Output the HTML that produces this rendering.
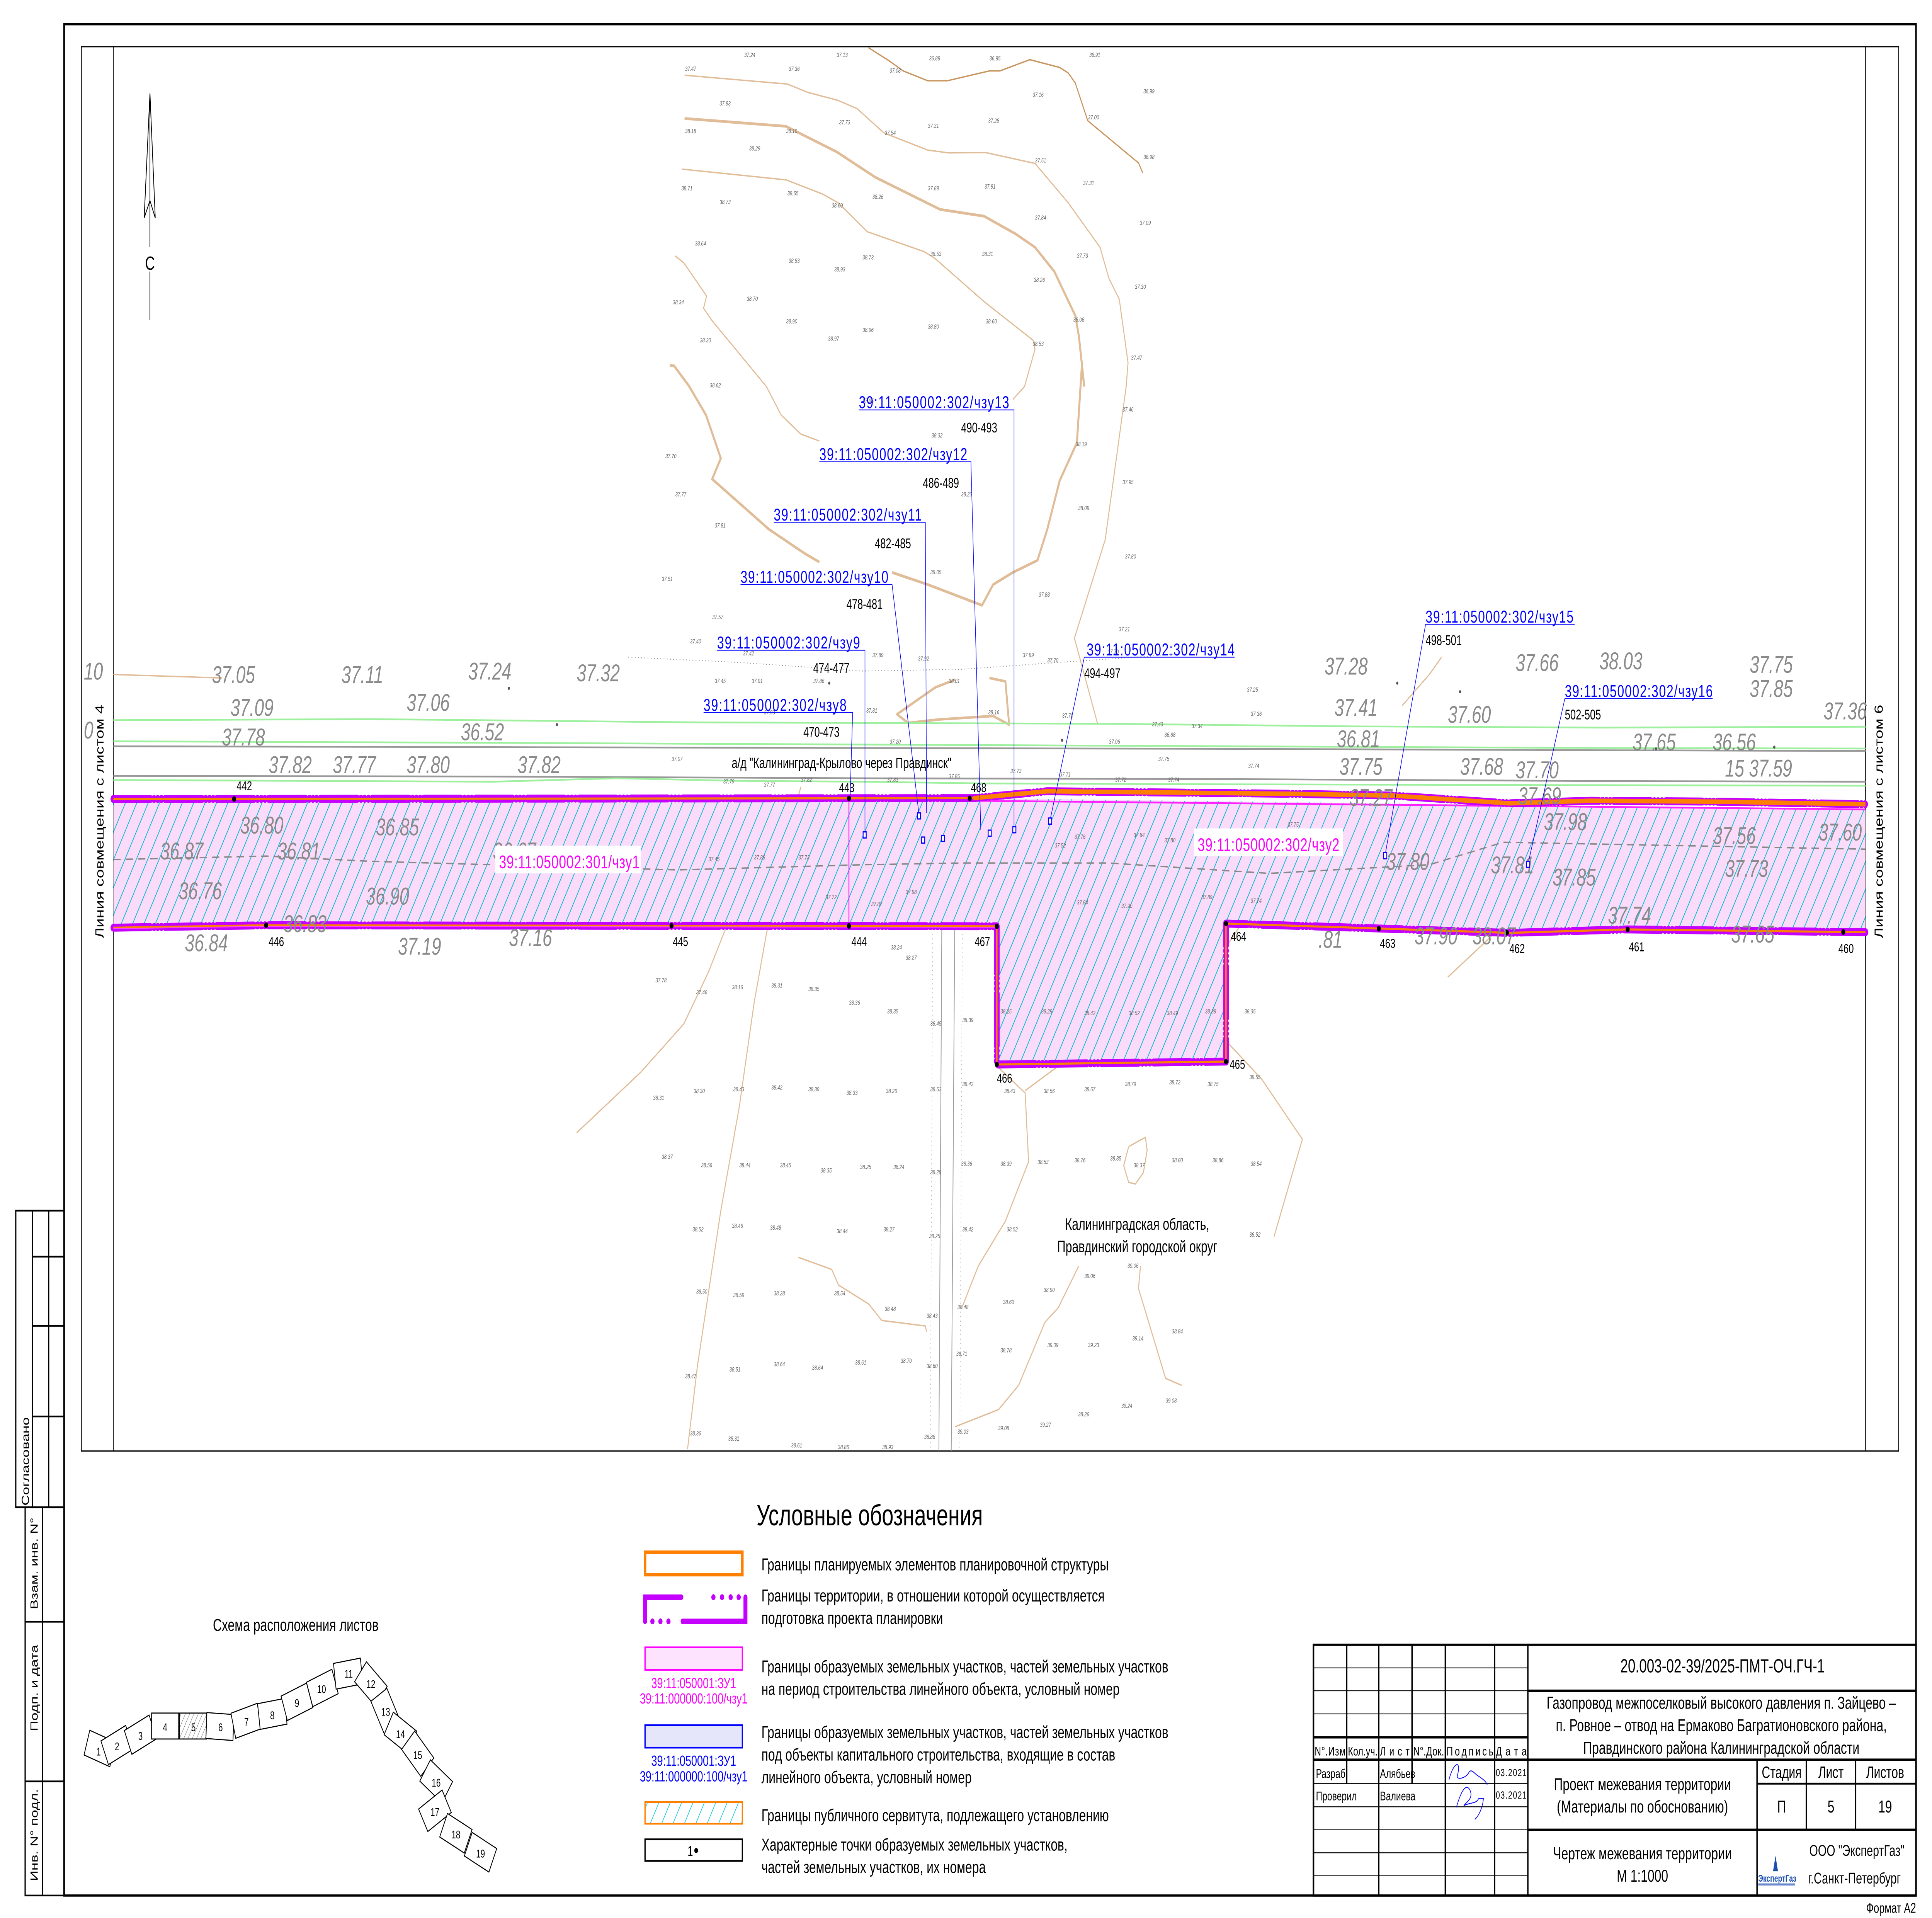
<!DOCTYPE html>
<html><head><meta charset="utf-8"><style>
html,body{margin:0;padding:0;background:#fff;width:100%;height:100%;overflow:hidden;}
svg{display:block;position:fixed;left:0;top:0;width:100vw;height:100vh;}
text{font-family:"Liberation Sans",sans-serif;}
.g{fill:#8a8a8a;font-style:italic;}
.sm{fill:#666;font-size:3.6px;font-style:italic;}
.bl{fill:#0000ff;font-size:10px;}
.bk{fill:#000;font-size:8px;}
.pt{fill:#000;font-size:7.5px;}
.lg{fill:#000;font-size:10px;}
.tb{fill:#000;}
</style></head><body>
<svg viewBox="0 0 1568 1109" preserveAspectRatio="none" xmlns="http://www.w3.org/2000/svg">
<defs>
<pattern id="h" width="8" height="8" patternUnits="userSpaceOnUse" patternTransform="rotate(30)">
<rect width="8" height="8" fill="#fadcfa"/>
<line x1="0" y1="0" x2="0" y2="8" stroke="#00bcd4" stroke-width="1.1"/>
</pattern>
<pattern id="h2" width="8" height="8" patternUnits="userSpaceOnUse" patternTransform="rotate(30)">
<rect width="8" height="8" fill="#fff"/>
<line x1="0" y1="0" x2="0" y2="8" stroke="#00c6d8" stroke-width="0.9"/>
</pattern>
<pattern id="h3" width="3" height="3" patternUnits="userSpaceOnUse" patternTransform="rotate(30)">
<line x1="0" y1="0" x2="0" y2="3" stroke="#000" stroke-width="0.3"/>
</pattern>
</defs>
<rect width="1568" height="1109" fill="#fff"/>

<rect x="52" y="14" width="1503" height="1082" fill="none" stroke="#000" stroke-width="1.3"/>
<rect x="66" y="27" width="1475" height="812" fill="none" stroke="#000" stroke-width="0.7"/>
<line x1="92" y1="27" x2="92" y2="839" stroke="#000" stroke-width="0.5"/>
<line x1="1514" y1="27" x2="1514" y2="839" stroke="#000" stroke-width="0.5"/>

<g stroke="#000" stroke-width="1" fill="none">
<polyline points="52,700 12.8,700 12.8,871.5 52,871.5"/>
<line x1="26.4" y1="700" x2="26.4" y2="871.5"/>
<line x1="39.5" y1="700" x2="39.5" y2="871.5"/>
<line x1="26.4" y1="726.6" x2="52" y2="726.6"/>
<line x1="26.4" y1="766.6" x2="52" y2="766.6"/>
<line x1="26.4" y1="819" x2="52" y2="819"/>
<polyline points="52,871.5 20.4,871.5 20.4,1096 52,1096"/>
<line x1="34.6" y1="871.5" x2="34.6" y2="1096"/>
<line x1="20.4" y1="937.7" x2="52" y2="937.7"/>
<line x1="20.4" y1="1030" x2="52" y2="1030"/>
</g>
<g font-size="8.5" fill="#000">
<text transform="translate(23.5,845) rotate(-90)" text-anchor="middle">Согласовано</text>
<text transform="translate(30.5,904) rotate(-90)" text-anchor="middle">Взам. инв. N°</text>
<text transform="translate(30.5,976) rotate(-90)" text-anchor="middle">Подп. и дата</text>
<text transform="translate(30.5,1061) rotate(-90)" text-anchor="middle">Инв. N° подл.</text>
</g>

<g stroke="#000" stroke-width="0.6" fill="none">
<polyline points="121.7,185 121.7,157"/>
<polyline points="121.7,143 121.7,54"/>
<polyline points="117,126 121.7,54 126,126 121.7,116 117,126"/>
</g>
<text x="121.7" y="156" font-size="11" text-anchor="middle">С</text>

<text transform="translate(84,475) rotate(-90)" font-size="9.5" text-anchor="middle">Линия совмещения с листом 4</text>
<text transform="translate(1528,475) rotate(-90)" font-size="9.5" text-anchor="middle">Линия совмещения с листом 6</text>

<g fill="none" stroke="#e0bd98" stroke-width="0.8" stroke-linejoin="round">
<polyline points="555.6,43.5 639,48.6 656,53.5 680,58 695.5,62.8 717.5,76.9 753,86.8 770,88.4 800,88.2 840,94.5 867,117.3 892.8,143 900,161 908.4,173 915.5,209.7 914,223.5 897,312 872,369 891,419"/>
<polyline points="555.6,68.5 637.7,73 679,87.8 710.4,102.5 763,121.1 798.7,125 824.4,135.3 840,143 855.7,157 872.8,182.7 875.6,194.3 880,223.5" stroke-width="1.6"/>
<polyline points="553.6,97.8 638,104 667.6,112.2 680.4,117.3 704,134 750,145.5 758.8,149.4 798.7,174.4 810,180.8 838.6,196.8 840,202 831.5,223.5 822,231"/>
<polyline points="548,148 555,152 573.5,171.2 571,178.2 577.8,185.3 622,223.5 634,240 650,251 665,255"/>
<polyline points="543.6,211.3 547,211.5 559,223 573,240 585,265 578,277 624,306 653,320 665,325" stroke-width="1.6"/>
<polyline points="724,331 753,338 797,350 806,338 822,331 842,324 850,306 860,278 874,256 878,212 880,223.5" stroke-width="1.6"/>
<polyline points="704.7,27.5 721.7,35.2 733,41 753,46.7 768.8,46.7 803,41 811.5,41 835.8,34.5 860,39 867,42.2 872.7,48 882.8,69.8 924,94.2 927.5,100" stroke="#c9955e"/>
<polyline points="775,393 759,397.5 728,413 737,418 762,416 806,414 819,419 816,394 803,392" stroke-width="1.5"/>
<polyline points="832,630.6 856.5,617.7 886,596 910.7,587.4 940.5,588.5 970,600 994.6,601.5 1024,624 1057,658.7 1034,715"/>
<polyline points="810,617 832,632 834.8,671.7 816,706 794,732 780.7,756"/>
<polyline points="875.5,732 859,756 848,764.6 826.7,801 810.5,815 775,825"/>
<polyline points="925.6,732 924,745 946,797 959,801"/>
<polyline points="648,727 675,734 680.5,743 705,754 715.7,763.5 751,766.7 752,770"/>
<polyline points="916,663 929.6,657.6 931,665 928,678 921.5,684.6 916,683.6 912,674 916,663"/>
<polyline points="468,655 520,620 555,592 575,562 590,535 600,510 615,492 625,470"/>
<polyline points="558,838 566,790 585,700 600,640 612,580 622,540 640,480 650,455"/>
<polyline points="465,463 488,472 494,495 498,515 530,525 565,507"/>
<polyline points="990,553 1030,510 1070,485 1110,480 1160,482 1210,478 1240,472"/>
<polyline points="700,521 712,515 722,520 738,512 760,505" stroke-width="1.4"/>
<polyline points="810,535 815,540 830,555 850,545 872,547 895,560 920,520 940,515 960,545 985,555 995,560" stroke-width="1.2"/>
<polyline points="1224,515 1230,515 1240,520 1205,545 1175,565"/>
<polyline points="92,390 180,392"/>
<polyline points="1138,408 1160,390 1170,380"/>
</g>

<g fill="none">
<polyline points="92,416.4 300,415.8 568,417.7 900,418.5 1100,420 1300,420.7 1514,420.2" stroke="#9ef09e" stroke-width="1"/>
<polyline points="92,428.6 400,429.5 700,430.5 1000,431.5 1300,432.5 1514,432.8" stroke="#9ef09e" stroke-width="1"/>
<polyline points="92,431.5 400,432 700,432.5 1000,433 1300,433.8 1514,434.2" stroke="#999" stroke-width="1"/>
<polyline points="92,448.6 400,449 700,450 1000,450.5 1300,451.6 1514,452" stroke="#999" stroke-width="1"/>
<polyline points="92,451 400,452 500,450 600,451.5 700,452 800,453 1000,453.5 1300,454 1514,454.3" stroke="#9ef09e" stroke-width="1"/>
<polyline points="510,380 600,383 700,388 780,387 860,383 960,378" stroke="#888" stroke-width="0.5" stroke-dasharray="0.6 2"/>
<line x1="764.5" y1="520" x2="762" y2="839" stroke="#999" stroke-width="0.6"/>
<line x1="775" y1="520" x2="772" y2="839" stroke="#999" stroke-width="0.6"/>
<line x1="757" y1="540" x2="755" y2="839" stroke="#aaa" stroke-width="0.4" stroke-dasharray="0.6 2"/>
<line x1="781" y1="540" x2="779" y2="839" stroke="#aaa" stroke-width="0.4" stroke-dasharray="0.6 2"/>
</g>

<polygon points="92,462 790,461.5 1514,468 1514,539 1320,537.4 1225,539.4 1100,536.4 995,534 995,613.8 809,615.5 809,535.6 216,535 92,536.4" fill="url(#h)"/>
<polyline points="92,497 216,495 300,498 550,503 700,500 780,499 900,499 1030,505 1160,500 1220,487 1514,491" fill="none" stroke="#888" stroke-width="0.8" stroke-dasharray="6 4"/>

<g fill="none" stroke-linejoin="round">
<polyline points="790,463 1514,468" stroke="#ff22ff" stroke-width="1"/>
<polyline points="92,462 790,461.5 850,457.5 1050,459 1130,460 1225,464.5 1290,463 1390,463.5 1514,465" stroke="#c400ff" stroke-width="4.6" stroke-dasharray="30 3 0 3 0 3 0 3" stroke-linecap="round"/>
<polyline points="790,461.5 850,457.5 1050,459 1130,460 1225,464.5 1290,463 1390,463.5 1514,465" stroke="#ff7f00" stroke-width="2.6"/>
<polyline points="92,462 790,461.5" stroke="#ff7f00" stroke-width="1.2"/>
<polyline points="92,536.4 216,535 809,535.6 809,615.5 995,613.8 995,534 1100,536.4 1225,539.4 1320,537.4 1514,539" stroke="#c400ff" stroke-width="4.6" stroke-dasharray="30 3 0 3 0 3 0 3" stroke-linecap="round"/>
<polyline points="92,536.4 216,535 809,535.6 809,615.5 995,613.8 995,534 1100,536.4 1225,539.4 1320,537.4 1514,539" stroke="#ff7f00" stroke-width="1.2"/>
<polyline points="92,537 216,535.6 809,536.2" stroke="#ff44ff" stroke-width="0.5"/>
<line x1="689" y1="462" x2="689" y2="536" stroke="#ff00ff" stroke-width="0.7"/>
</g>

<g fill="#000">
<circle cx="190" cy="462" r="1.6"/><circle cx="689" cy="461.7" r="1.6"/><circle cx="787" cy="461.6" r="1.6"/>
<circle cx="216" cy="535" r="1.6"/><circle cx="545" cy="535.3" r="1.6"/><circle cx="689" cy="535.4" r="1.6"/><circle cx="809" cy="535.6" r="1.6"/>
<circle cx="809" cy="615.5" r="1.6"/><circle cx="995" cy="613.8" r="1.6"/><circle cx="995" cy="534" r="1.6"/>
<circle cx="1119" cy="537" r="1.6"/><circle cx="1223" cy="539.3" r="1.6"/><circle cx="1321" cy="537.4" r="1.6"/><circle cx="1496" cy="538.9" r="1.6"/>
</g>
<g class="pt">
<text x="192" y="457">442</text><text x="681" y="458">443</text><text x="788" y="458">468</text>
<text x="218" y="547">446</text><text x="546" y="547">445</text><text x="691" y="547">444</text><text x="791" y="547">467</text>
<text x="809" y="626">466</text><text x="998" y="618">465</text><text x="999" y="544">464</text>
<text x="1120" y="548">463</text><text x="1225" y="551">462</text><text x="1322" y="550">461</text><text x="1492" y="551">460</text>
</g>

<g class="g" font-size="14">
<text x="68" y="393">10</text>
<text x="172" y="395">37.05</text><text x="277" y="395">37.11</text><text x="380" y="393">37.24</text><text x="468" y="394">37.32</text>
<text x="187" y="414">37.09</text><text x="330" y="411">37.06</text><text x="374" y="428">36.52</text><text x="180" y="431">37.78</text>
<text x="218" y="447">37.82</text><text x="270" y="447">37.77</text><text x="330" y="447">37.80</text><text x="420" y="447">37.82</text>
<text x="1075" y="390">37.28</text><text x="1230" y="388">37.66</text><text x="1298" y="387">38.03</text><text x="1420" y="389">37.75</text>
<text x="1083" y="414">37.41</text><text x="1175" y="418">37.60</text><text x="1420" y="403">37.85</text><text x="1480" y="416">37.36</text>
<text x="1085" y="432">36.81</text><text x="1390" y="434">36.56</text><text x="1325" y="434">37.65</text>
<text x="1087" y="448">37.75</text><text x="1185" y="448">37.68</text><text x="1230" y="450">37.70</text><text x="1400" y="449">15 37.59</text>
<text x="1232" y="465">37.69</text><text x="1095" y="466">37.27</text><text x="68" y="427">0</text>
<text x="195" y="482">36.80</text><text x="305" y="483">36.85</text><text x="130" y="497">36.87</text><text x="225" y="497">36.81</text><text x="400" y="497">36.67</text>
<text x="145" y="520">36.76</text><text x="297" y="523">36.90</text><text x="230" y="539">36.83</text><text x="150" y="550">36.84</text><text x="323" y="552">37.19</text><text x="413" y="547">37.16</text>
<text x="1253" y="480">37.98</text><text x="1390" y="488">37.56</text><text x="1476" y="486">37.60</text><text x="1125" y="503">37.80</text>
<text x="1210" y="505">37.81</text><text x="1260" y="512">37.85</text><text x="1400" y="507">37.73</text><text x="1305" y="534">37.74</text>
<text x="1148" y="546">37.90</text><text x="1195" y="546">38.07</text><text x="1405" y="545">37.65</text><text x="1070" y="548">.81</text>
</g>

<g class="sm">
<text x="604" y="33">37.24</text><text x="679" y="33">37.13</text><text x="754" y="35">36.89</text><text x="803" y="35">36.95</text><text x="884" y="33">36.91</text>
<text x="556" y="41">37.47</text><text x="640" y="41">37.36</text><text x="722" y="42">37.08</text><text x="838" y="56">37.16</text><text x="928" y="54">36.99</text>
<text x="584" y="61">37.83</text><text x="883" y="69">37.00</text><text x="556" y="77">38.18</text><text x="638" y="77">38.10</text><text x="681" y="72">37.73</text>
<text x="718" y="78">37.54</text><text x="753" y="74">37.31</text><text x="802" y="71">37.28</text><text x="608" y="87">38.29</text><text x="840" y="94">37.51</text>
<text x="928" y="92">36.98</text><text x="553" y="110">38.71</text><text x="639" y="113">38.65</text><text x="708" y="115">38.26</text><text x="753" y="110">37.89</text>
<text x="799" y="109">37.81</text><text x="879" y="107">37.31</text><text x="584" y="118">38.73</text><text x="675" y="120">38.60</text><text x="840" y="127">37.84</text>
<text x="925" y="130">37.09</text><text x="564" y="142">38.64</text><text x="640" y="152">38.83</text><text x="700" y="150">38.73</text><text x="677" y="157">38.93</text>
<text x="755" y="148">38.53</text><text x="797" y="148">38.31</text><text x="874" y="149">37.73</text><text x="839" y="163">38.26</text><text x="921" y="167">37.30</text>
<text x="546" y="176">38.34</text><text x="606" y="174">38.70</text><text x="638" y="187">38.90</text><text x="700" y="192">38.96</text><text x="753" y="190">38.80</text>
<text x="800" y="187">38.60</text><text x="871" y="186">38.06</text><text x="568" y="198">38.30</text><text x="672" y="197">38.97</text><text x="838" y="200">38.53</text>
<text x="918" y="208">37.47</text><text x="576" y="224">38.62</text><text x="700" y="233">37.95</text><text x="756" y="253">38.32</text><text x="873" y="258">38.19</text>
<text x="540" y="265">37.70</text><text x="548" y="287">37.77</text><text x="580" y="305">37.81</text><text x="780" y="287">38.23</text><text x="875" y="295">38.09</text>
<text x="537" y="336">37.51</text><text x="578" y="358">37.57</text><text x="560" y="372">37.40</text><text x="755" y="332">38.05</text><text x="843" y="345">37.88</text>
<text x="911" y="238">37.46</text><text x="911" y="280">37.95</text><text x="913" y="323">37.80</text><text x="908" y="365">37.21</text><text x="899" y="378">37.70</text>
<text x="723" y="549">38.24</text><text x="735" y="555">38.27</text><text x="656" y="573">38.35</text><text x="689" y="581">38.36</text><text x="720" y="586">38.35</text>
<text x="755" y="593">38.45</text><text x="781" y="591">38.39</text><text x="812" y="586">38.25</text><text x="845" y="586">38.29</text><text x="880" y="587">38.42</text>
<text x="916" y="587">38.52</text><text x="947" y="587">38.49</text><text x="978" y="586">38.39</text><text x="1010" y="586">38.35</text><text x="656" y="631">38.39</text>
<text x="687" y="633">38.33</text><text x="719" y="632">38.26</text><text x="755" y="631">38.53</text><text x="781" y="628">38.42</text><text x="815" y="632">38.43</text>
<text x="847" y="632">38.56</text><text x="880" y="631">38.67</text><text x="913" y="628">38.79</text><text x="949" y="627">38.72</text><text x="980" y="628">38.75</text>
<text x="1014" y="624">38.55</text><text x="666" y="678">38.35</text><text x="698" y="676">38.25</text><text x="725" y="676">38.24</text><text x="755" y="679">38.29</text>
<text x="780" y="674">38.36</text><text x="812" y="674">38.39</text><text x="842" y="673">38.53</text><text x="872" y="672">38.76</text><text x="901" y="671">38.85</text>
<text x="920" y="675">38.37</text><text x="951" y="672">38.80</text><text x="984" y="672">38.86</text><text x="1015" y="674">38.54</text><text x="679" y="713">38.44</text>
<text x="717" y="712">38.27</text><text x="754" y="716">38.25</text><text x="781" y="712">38.42</text><text x="817" y="712">38.52</text><text x="1014" y="715">38.52</text>
<text x="880" y="739">39.06</text><text x="915" y="733">39.06</text><text x="847" y="747">38.90</text><text x="814" y="754">38.60</text><text x="677" y="749">38.54</text>
<text x="718" y="758">38.48</text><text x="752" y="762">38.43</text><text x="777" y="757">38.48</text><text x="951" y="771">38.84</text><text x="919" y="775">39.14</text>
<text x="812" y="782">38.78</text><text x="850" y="779">39.09</text><text x="883" y="779">39.23</text><text x="659" y="792">38.64</text><text x="694" y="789">38.61</text>
<text x="731" y="788">38.70</text><text x="752" y="791">38.60</text><text x="776" y="784">38.71</text><text x="910" y="814">39.24</text><text x="946" y="811">39.08</text>
<text x="875" y="819">38.26</text><text x="810" y="827">39.08</text><text x="844" y="825">39.27</text><text x="777" y="829">39.03</text><text x="750" y="832">38.88</text>
<text x="680" y="838">38.86</text><text x="716" y="838">38.93</text>
<text x="532" y="568">37.78</text><text x="565" y="575">37.46</text><text x="594" y="572">38.16</text><text x="626" y="571">38.31</text><text x="530" y="636">38.31</text>
<text x="563" y="632">38.30</text><text x="595" y="631">38.43</text><text x="626" y="630">38.42</text><text x="537" y="670">38.37</text><text x="569" y="675">38.56</text>
<text x="600" y="675">38.44</text><text x="633" y="675">38.45</text><text x="562" y="712">38.52</text><text x="594" y="710">38.46</text><text x="625" y="711">38.48</text>
<text x="565" y="748">38.50</text><text x="595" y="750">38.59</text><text x="628" y="749">38.28</text><text x="556" y="797">38.47</text><text x="592" y="793">38.51</text>
<text x="628" y="790">38.64</text><text x="560" y="830">38.36</text><text x="591" y="833">38.31</text><text x="642" y="837">38.61</text>
<text x="603" y="379">37.42</text><text x="580" y="395">37.45</text><text x="610" y="395">37.91</text><text x="660" y="395">37.86</text><text x="708" y="380">37.89</text>
<text x="745" y="382">37.92</text><text x="770" y="395">38.01</text><text x="830" y="380">37.89</text><text x="850" y="383">37.70</text><text x="1012" y="400">37.25</text>
<text x="620" y="413">37.93</text><text x="703" y="412">37.81</text><text x="722" y="430">37.20</text><text x="802" y="413">38.16</text><text x="862" y="415">37.70</text>
<text x="935" y="420">37.43</text><text x="967" y="421">37.34</text><text x="1015" y="414">37.36</text><text x="900" y="430">37.06</text><text x="945" y="426">36.88</text>
<text x="545" y="440">37.07</text><text x="587" y="453">37.79</text><text x="620" y="455">37.77</text><text x="650" y="452">37.82</text><text x="720" y="452">37.83</text>
<text x="770" y="450">37.85</text><text x="820" y="447">37.73</text><text x="860" y="449">37.71</text><text x="905" y="452">37.72</text><text x="948" y="452">37.74</text>
<text x="940" y="440">37.75</text><text x="1013" y="444">37.74</text><text x="575" y="498">37.45</text><text x="612" y="497">37.88</text><text x="648" y="497">37.73</text>
<text x="670" y="520">37.72</text><text x="707" y="524">37.87</text><text x="735" y="517">37.98</text><text x="856" y="490">37.52</text><text x="872" y="485">37.76</text>
<text x="920" y="484">37.84</text><text x="945" y="487">37.80</text><text x="977" y="485">37.84</text><text x="1013" y="483">37.68</text><text x="1045" y="478">37.75</text>
<text x="975" y="520">37.89</text><text x="1015" y="522">37.74</text><text x="874" y="523">37.84</text><text x="910" y="525">37.90</text>
</g>
<g fill="#555">
<circle cx="413" cy="398" r="0.9"/><circle cx="673" cy="395" r="0.9"/><circle cx="1185" cy="400" r="0.9"/><circle cx="1134" cy="395" r="0.9"/>
<circle cx="1344" cy="433" r="0.9"/><circle cx="1440" cy="432" r="0.9"/><circle cx="862" cy="428" r="0.9"/><circle cx="452" cy="419" r="0.9"/>
</g>

<g fill="none" stroke="#0000ff" stroke-width="0.45">
<polyline points="697,237 823,237 823,482"/>
<polyline points="665,267 788,267 796,480"/>
<polyline points="628,302 751,302 752,470"/>
<polyline points="601,338 724,338 746,472"/>
<polyline points="582,376 702,376 702,483"/>
<polyline points="571,412 692,412 690,460"/>
<polyline points="1002,380 880,380 852,475"/>
<polyline points="1278,361 1157,361 1124,495"/>
<polyline points="1390,404 1270,404 1240,500"/>
</g>
<g fill="#fff" stroke="#0000ff" stroke-width="0.7">
<rect x="700.5" y="481" width="2.5" height="3.5"/><rect x="744.5" y="470" width="2.5" height="3.5"/><rect x="748" y="484" width="2.5" height="3.5"/>
<rect x="802" y="480" width="2.5" height="3.5"/><rect x="822" y="478" width="2.5" height="3.5"/><rect x="851" y="473" width="2.5" height="3.5"/>
<rect x="1123" y="493" width="2.5" height="3.5"/><rect x="1239" y="498" width="2.5" height="3.5"/><rect x="764" y="483" width="2.5" height="3.5"/>
</g>
<g class="bl">
<text x="697" y="236" textLength="122">39:11:050002:302/чзу13</text>
<text x="665" y="266" textLength="120">39:11:050002:302/чзу12</text>
<text x="628" y="301" textLength="120">39:11:050002:302/чзу11</text>
<text x="601" y="337" textLength="120">39:11:050002:302/чзу10</text>
<text x="582" y="375" textLength="116">39:11:050002:302/чзу9</text>
<text x="571" y="411" textLength="116">39:11:050002:302/чзу8</text>
<text x="882" y="379" textLength="120">39:11:050002:302/чзу14</text>
<text x="1157" y="360" textLength="120">39:11:050002:302/чзу15</text>
<text x="1270" y="403" textLength="120">39:11:050002:302/чзу16</text>
</g>
<g class="bk">
<text x="780" y="250">490-493</text><text x="749" y="282">486-489</text><text x="710" y="317">482-485</text><text x="687" y="352">478-481</text>
<text x="660" y="389">474-477</text><text x="652" y="426">470-473</text><text x="880" y="392">494-497</text><text x="1157" y="373">498-501</text><text x="1270" y="416">502-505</text>
</g>
<text x="683" y="444" font-size="8.5" text-anchor="middle" fill="#000">а/д "Калининград-Крылово через Правдинск"</text>

<rect x="402" y="489" width="118" height="16" fill="#fff"/>
<text x="405" y="502" font-size="10.5" fill="#ff00ff" textLength="114">39:11:050002:301/чзу1</text>
<rect x="969" y="479" width="121" height="16" fill="#fff"/>
<text x="972" y="492" font-size="10.5" fill="#ff00ff" textLength="115">39:11:050002:302/чзу2</text>

<text x="923" y="711" font-size="9.5" text-anchor="middle">Калининградская область,</text>
<text x="923" y="724" font-size="9.5" text-anchor="middle">Правдинский городской округ</text>

<text x="240" y="943" font-size="10" text-anchor="middle">Схема расположения листов</text>
<g fill="#fff" stroke="#000" stroke-width="0.6">
<rect x="-11" y="-7.5" width="22" height="15" transform="translate(81,1011) rotate(18)"/>
<rect x="-11" y="-7.5" width="22" height="15" transform="translate(95,1009) rotate(-24)"/>
<rect x="-11" y="-7.5" width="22" height="15" transform="translate(114,1003) rotate(-24)"/>
<rect x="-11" y="-7.5" width="22" height="15" transform="translate(134,998) rotate(0)"/>
<rect x="-11" y="-7.5" width="22" height="15" transform="translate(156.7,998) rotate(0)" fill="url(#h3)"/>
<rect x="-11" y="-7.5" width="22" height="15" transform="translate(178.5,998.3) rotate(3)"/>
<rect x="-11" y="-7.5" width="22" height="15" transform="translate(200,995) rotate(-15)"/>
<rect x="-11" y="-7.5" width="22" height="15" transform="translate(221,991) rotate(-8)"/>
<rect x="-11" y="-7.5" width="22" height="15" transform="translate(241,984) rotate(-20)"/>
<rect x="-11" y="-7.5" width="22" height="15" transform="translate(261.6,976) rotate(-20)"/>
<rect x="-11" y="-7.5" width="22" height="15" transform="translate(282.6,967.7) rotate(-8)"/>
<rect x="-11" y="-7.5" width="22" height="15" transform="translate(301,973.7) rotate(40)"/>
<rect x="-11" y="-7.5" width="22" height="15" transform="translate(313,989.5) rotate(60)"/>
<rect x="-11" y="-7.5" width="22" height="15" transform="translate(325,1002) rotate(30)"/>
<rect x="-11" y="-7.5" width="22" height="15" transform="translate(339,1014) rotate(45)"/>
<rect x="-11" y="-7.5" width="22" height="15" transform="translate(354,1030) rotate(35)"/>
<rect x="-11" y="-7.5" width="22" height="15" transform="translate(353,1047) rotate(-30)"/>
<rect x="-11" y="-7.5" width="22" height="15" transform="translate(370,1060) rotate(25)"/>
<rect x="-11" y="-7.5" width="22" height="15" transform="translate(390,1071) rotate(25)"/>
</g>
<g font-size="6.5" text-anchor="middle">
<text x="80" y="1015">1</text><text x="95" y="1012">2</text><text x="114" y="1006">3</text><text x="134" y="1001">4</text><text x="157" y="1001">5</text>
<text x="179" y="1001">6</text><text x="200" y="998">7</text><text x="221" y="994">8</text><text x="241" y="987">9</text><text x="261" y="979">10</text>
<text x="283" y="970">11</text><text x="301" y="976">12</text><text x="313" y="992">13</text><text x="325" y="1005">14</text><text x="339" y="1017">15</text>
<text x="354" y="1033">16</text><text x="353" y="1050">17</text><text x="370" y="1063">18</text><text x="390" y="1074">19</text>
</g>

<text x="614" y="882" font-size="17">Условные обозначения</text>
<rect x="523.5" y="897.5" width="79" height="13" fill="#fff" stroke="#ff7f00" stroke-width="2"/>
<path d="M605,923.5 L605,937.5 L554,937.5 M523.5,937.5 L523.5,923.5 L553,923.5" fill="none" stroke="#c400ff" stroke-width="3.2" stroke-linecap="round"/>
<g fill="#c400ff"><circle cx="529.5" cy="937.5" r="1.7"/><circle cx="536" cy="937.5" r="1.7"/><circle cx="542.5" cy="937.5" r="1.7"/>
<circle cx="579" cy="923.5" r="1.7"/><circle cx="586" cy="923.5" r="1.7"/><circle cx="593" cy="923.5" r="1.7"/><circle cx="599.5" cy="923.5" r="1.7"/></g>
<rect x="523.5" y="952.5" width="79" height="13" fill="#fde3fd" stroke="#ff00ff" stroke-width="1"/>
<text x="563" y="976" font-size="8.5" fill="#ff00ff" text-anchor="middle">39:11:050001:ЗУ1</text>
<text x="563" y="985" font-size="8.5" fill="#ff00ff" text-anchor="middle">39:11:000000:100/чзу1</text>
<rect x="523.5" y="997.5" width="79" height="13" fill="#e6e6fa" stroke="#0000ff" stroke-width="1"/>
<text x="563" y="1021" font-size="8.5" fill="#0000ff" text-anchor="middle">39:11:050001:ЗУ1</text>
<text x="563" y="1030" font-size="8.5" fill="#0000ff" text-anchor="middle">39:11:000000:100/чзу1</text>
<rect x="523.5" y="1042" width="79" height="12.5" fill="url(#h2)" stroke="#ff7f00" stroke-width="1"/>
<rect x="523.5" y="1063.5" width="79" height="12.5" fill="#fff" stroke="#000" stroke-width="1"/>
<text x="558" y="1073" font-size="8">1</text><circle cx="565" cy="1070" r="1.5"/>
<g class="lg">
<text x="618" y="908">Границы планируемых элементов планировочной структуры</text>
<text x="618" y="926">Границы территории, в отношении которой осуществляется</text>
<text x="618" y="939">подготовка проекта планировки</text>
<text x="618" y="967">Границы образуемых земельных участков, частей земельных участков</text>
<text x="618" y="980">на период строительства линейного объекта, условный номер</text>
<text x="618" y="1005">Границы образуемых земельных участков, частей земельных участков</text>
<text x="618" y="1018">под объекты капитального строительства, входящие в состав</text>
<text x="618" y="1031">линейного объекта, условный номер</text>
<text x="618" y="1053">Границы публичного сервитута, подлежащего установлению</text>
<text x="618" y="1070">Характерные точки образуемых земельных участков,</text>
<text x="618" y="1083">частей земельных участков, их номера</text>
</g>

<g stroke="#000" fill="none">
<rect x="1066" y="951" width="489" height="145" stroke-width="1.3"/>
<g stroke-width="1.1">
<line x1="1093" y1="951" x2="1093" y2="1031.3"/><line x1="1119" y1="951" x2="1119" y2="1096"/>
<line x1="1146" y1="951" x2="1146" y2="1031.3"/><line x1="1173" y1="951" x2="1173" y2="1096"/>
<line x1="1213" y1="951" x2="1213" y2="1096"/><line x1="1240" y1="951" x2="1240" y2="1096"/>
<line x1="1066" y1="1004.5" x2="1240" y2="1004.5" stroke-width="1.4"/><line x1="1066" y1="1017.5" x2="1555" y2="1017.5" stroke-width="1.4"/>
<line x1="1240" y1="977.6" x2="1555" y2="977.6" stroke-width="1.4"/>
<line x1="1240" y1="1058" x2="1555" y2="1058" stroke-width="1.4"/>
<line x1="1426" y1="1017.5" x2="1426" y2="1096"/><line x1="1466" y1="1017.5" x2="1466" y2="1058"/><line x1="1506" y1="1017.5" x2="1506" y2="1058"/>
<line x1="1426" y1="1031.3" x2="1555" y2="1031.3"/>
</g>
<g stroke-width="0.5">
<line x1="1066" y1="964.4" x2="1240" y2="964.4"/><line x1="1066" y1="977.6" x2="1240" y2="977.6"/><line x1="1066" y1="991" x2="1240" y2="991"/>
<line x1="1066" y1="1031.3" x2="1240" y2="1031.3"/><line x1="1066" y1="1044.7" x2="1240" y2="1044.7"/><line x1="1066" y1="1058" x2="1240" y2="1058"/>
<line x1="1066" y1="1071.3" x2="1240" y2="1071.3"/><line x1="1066" y1="1084.6" x2="1240" y2="1084.6"/>
</g>
</g>
<g class="tb" font-size="7.2">
<text x="1067" y="1015" textLength="25">N°.Изм</text><text x="1094" y="1015" textLength="24">Кол.уч.</text><text x="1120" y="1015" textLength="24">Лист</text>
<text x="1147" y="1015" textLength="25">N°.Док.</text><text x="1174" y="1015" textLength="38">Подпись</text><text x="1214" y="1015" textLength="25">Дата</text>
<text x="1068" y="1028">Разраб.</text><text x="1120" y="1028">Алябьев</text><text x="1068" y="1041">Проверил</text><text x="1120" y="1041">Валиева</text>
<text x="1214" y="1027" font-size="6" textLength="25">03.2021</text><text x="1214" y="1040" font-size="6" textLength="25">03.2021</text>
</g>
<g fill="none" stroke="#0000ff" stroke-width="0.5">
<path d="M1176,1029 C1180,1018 1186,1018 1183,1026 C1181,1030 1190,1028 1192,1025 C1194,1022 1197,1026 1200,1027 C1204,1029 1206,1030 1207,1032"/>
<path d="M1182,1045 C1186,1035 1190,1031 1193,1035 C1196,1040 1190,1042 1188,1044 C1194,1042 1198,1043 1200,1040 L1204,1040 C1203,1046 1200,1050 1197,1052"/>
</g>
<g class="tb" text-anchor="middle">
<text x="1398" y="967" font-size="11">20.003-02-39/2025-ПМТ-ОЧ.ГЧ-1</text>
<text x="1397" y="988" font-size="10">Газопровод межпоселковый высокого давления п. Зайцево –</text>
<text x="1397" y="1001" font-size="10">п. Ровное – отвод на Ермаково Багратионовского района,</text>
<text x="1397" y="1014" font-size="10">Правдинского района Калининградской области</text>
<text x="1333" y="1035" font-size="10">Проект межевания территории</text>
<text x="1333" y="1048" font-size="10">(Материалы по обоснованию)</text>
<text x="1446" y="1028" font-size="9.5">Стадия</text><text x="1486" y="1028" font-size="9.5">Лист</text><text x="1530" y="1028" font-size="9.5">Листов</text>
<text x="1446" y="1048" font-size="10">П</text><text x="1486" y="1048" font-size="10">5</text><text x="1530" y="1048" font-size="10">19</text>
<text x="1333" y="1075" font-size="10">Чертеж межевания территории</text>
<text x="1333" y="1088" font-size="10">М 1:1000</text>
<text x="1507" y="1073" font-size="9">ООО "ЭкспертГаз"</text>
<text x="1505" y="1089" font-size="9">г.Санкт-Петербург</text>
</g>
<g>
<path d="M1441,1073 L1443,1082 L1439,1082 Z" fill="#1a4fb0"/>
<text x="1427" y="1088" font-size="5.5" fill="#1a4fb0" font-weight="bold">ЭкспертГаз</text>
<rect x="1427" y="1089" width="30" height="1.2" fill="#6a8ad0"/>
</g>
<text x="1555" y="1106" font-size="8" text-anchor="end">Формат А2</text>
</svg>
</body></html>
